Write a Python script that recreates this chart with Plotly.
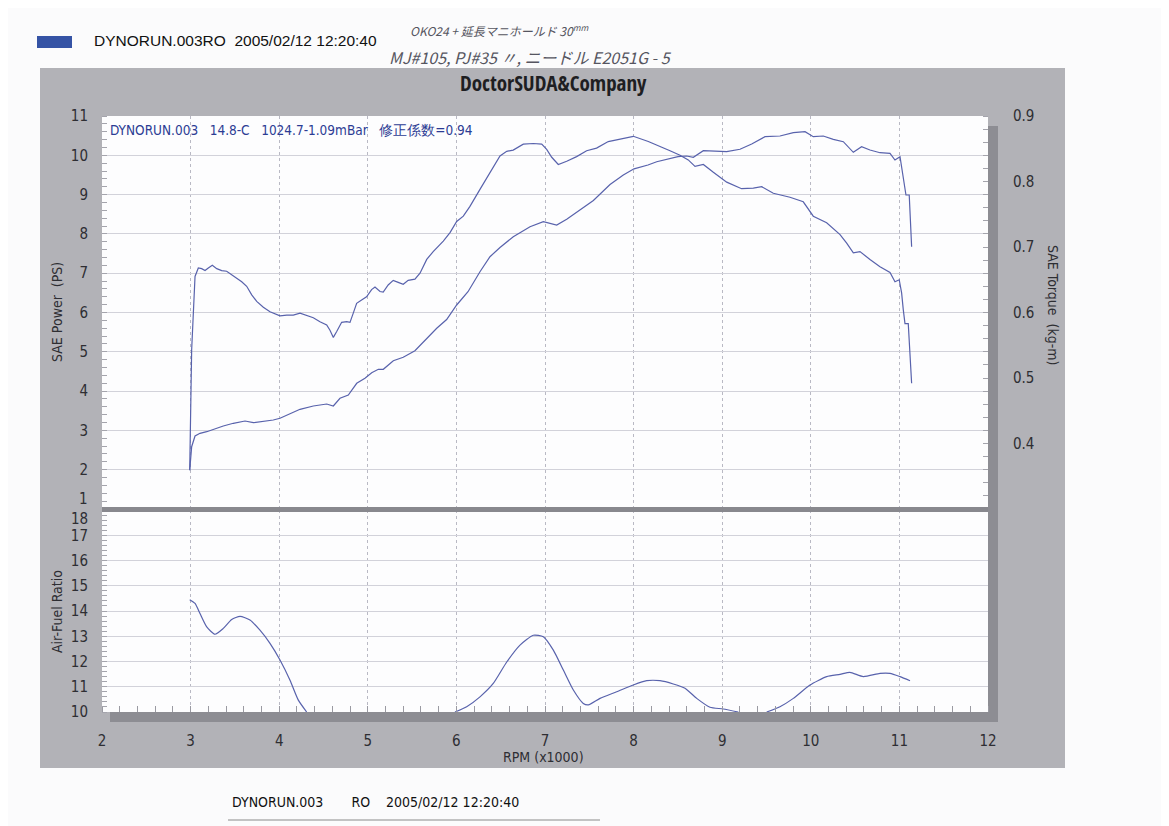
import plotly.graph_objects as go

# ---------------- data ----------------
rpm_torque = [2.99, 3.012, 3.050, 3.087, 3.125, 3.163, 3.200, 3.245, 3.295, 3.351, 3.407, 3.464, 3.520,
              3.577, 3.633, 3.690, 3.746, 3.821, 3.896, 4.009, 4.085, 4.159, 4.235, 4.310, 4.385, 4.460,
              4.536, 4.573, 4.611, 4.649, 4.705, 4.762, 4.799, 4.836, 4.874, 4.930, 4.986, 5.043, 5.081,
              5.138, 5.174, 5.230, 5.287, 5.343, 5.400, 5.456, 5.532, 5.589, 5.665, 5.738, 5.852, 5.928,
              6.003, 6.078, 6.153, 6.266, 6.379, 6.492, 6.568, 6.641, 6.755, 6.868, 6.963, 7.019, 7.076,
              7.150, 7.245, 7.357, 7.470, 7.582, 7.714, 7.847, 7.997, 8.166, 8.298, 8.411, 8.524, 8.617,
              8.693, 8.787, 8.900, 9.051, 9.219, 9.351, 9.446, 9.577, 9.765, 9.915, 10.028, 10.179,
              10.330, 10.405, 10.480, 10.555, 10.668, 10.781, 10.894, 10.950, 10.998, 11.025, 11.044,
              11.063, 11.100, 11.138]
torque_kgm = [0.359, 0.543, 0.655, 0.668, 0.667, 0.664, 0.668, 0.672, 0.667, 0.664, 0.663, 0.658, 0.653,
              0.647, 0.640, 0.627, 0.617, 0.608, 0.601, 0.595, 0.596, 0.596, 0.599, 0.595, 0.592, 0.586,
              0.581, 0.573, 0.562, 0.571, 0.585, 0.586, 0.585, 0.599, 0.614, 0.619, 0.624, 0.635, 0.639,
              0.632, 0.631, 0.642, 0.649, 0.646, 0.643, 0.649, 0.651, 0.660, 0.681, 0.693, 0.709, 0.722,
              0.739, 0.747, 0.762, 0.788, 0.814, 0.839, 0.846, 0.848, 0.857, 0.858, 0.857, 0.849, 0.837,
              0.826, 0.831, 0.838, 0.847, 0.851, 0.861, 0.865, 0.869, 0.861, 0.854, 0.847, 0.840, 0.833,
              0.823, 0.826, 0.814, 0.799, 0.789, 0.790, 0.792, 0.782, 0.776, 0.769, 0.747, 0.737,
              0.719, 0.706, 0.691, 0.693, 0.681, 0.670, 0.661, 0.647, 0.650, 0.630, 0.604,
              0.583, 0.583, 0.492]

rpm_power = [2.99, 3.012, 3.050, 3.106, 3.182, 3.256, 3.369, 3.482, 3.614, 3.708, 3.821, 3.933, 4.009,
             4.122, 4.235, 4.385, 4.536, 4.611, 4.686, 4.780, 4.875, 4.968, 5.044, 5.119, 5.175, 5.288,
             5.400, 5.532, 5.665, 5.778, 5.890, 6.003, 6.131, 6.266, 6.379, 6.492, 6.642, 6.831, 6.981,
             7.132, 7.245, 7.395, 7.546, 7.734, 7.884, 8.005, 8.162, 8.261, 8.377, 8.501, 8.599, 8.674,
             8.787, 8.937, 9.050, 9.201, 9.333, 9.483, 9.652, 9.803, 9.935, 10.028, 10.141, 10.254,
             10.367, 10.480, 10.573, 10.668, 10.781, 10.894, 10.950, 11.007, 11.044, 11.074, 11.111, 11.138]
power_ps = [1.99, 2.585, 2.858, 2.926, 2.967, 3.028, 3.112, 3.181, 3.239, 3.196, 3.221, 3.265, 3.308,
            3.417, 3.537, 3.621, 3.672, 3.621, 3.817, 3.901, 4.198, 4.326, 4.468, 4.555, 4.555, 4.774,
            4.860, 5.028, 5.344, 5.598, 5.822, 6.191, 6.529, 7.038, 7.420, 7.654, 7.929, 8.183, 8.310,
            8.226, 8.372, 8.608, 8.850, 9.257, 9.499, 9.656, 9.753, 9.837, 9.906, 9.964, 9.982, 9.949,
            10.117, 10.092, 10.092, 10.153, 10.288, 10.473, 10.491, 10.575, 10.601, 10.473, 10.491, 10.407,
            10.346, 10.076, 10.219, 10.135, 10.066, 10.051, 9.880, 9.964, 9.372, 8.990, 8.990, 7.674]

rpm_afr = [2.99, 3.05, 3.106, 3.182, 3.275, 3.369, 3.464, 3.558, 3.670, 3.783, 3.896, 4.009, 4.122, 4.216,
           4.310, None, 5.984, 6.116, 6.266, 6.416, 6.568, 6.718, 6.868, 6.981, 7.094, 7.207, 7.320, 7.432,
           7.489, 7.621, 7.809, 7.997, 8.148, 8.298, 8.448, 8.580, 8.712, 8.862, 9.012, 9.182, None, 9.502,
           9.652, 9.803, 9.991, 10.179, 10.330, 10.442, 10.593, 10.781, 10.894, 11.007, 11.120]
afr = [14.45, 14.30, 13.90, 13.37, 13.08, 13.31, 13.66, 13.79, 13.64, 13.24, 12.72, 12.06, 11.26, 10.47,
       10.0, None, 10.0, 10.21, 10.60, 11.13, 11.98, 12.65, 13.04, 12.98, 12.45, 11.66, 10.87, 10.34,
       10.28, 10.54, 10.80, 11.07, 11.24, 11.24, 11.11, 10.94, 10.54, 10.19, 10.12, 10.0, None, 10.0,
       10.21, 10.54, 11.07, 11.40, 11.49, 11.57, 11.40, 11.53, 11.53, 11.40, 11.24]

rpm_ticks = [2, 3, 4, 5, 6, 7, 8, 9, 10, 11, 12]
power_ticks = [2, 3, 4, 5, 6, 7, 8, 9, 10, 11]
torque_ticks = [0.4, 0.5, 0.6, 0.7, 0.8, 0.9]
torque_ticktext = ["0.4", "0.5", "0.6", "0.7", "0.8", "0.9"]
afr_ticks = [10, 11, 12, 13, 14, 15, 16, 17]

# ---------------- styling ----------------
W, H = 1169, 826
OFF = 8  # the page body adds an 8 px margin; positions below are in window pixels
def px(x): return (x - OFF) / W
def py(y): return 1 - (y - OFF) / H

NARROW = "DejaVu Sans Condensed, Liberation Sans Narrow, Arial Narrow, sans-serif"
BOLDN = "Open Sans Condensed, DejaVu Sans Condensed, sans-serif"
LINE = "#5862ac"
GRID_V = "#b9b9c4"
GRID_H = "#d2d2da"
TICKC = "#2e2e33"
PANEL = "#b2b2b7"
SHADOW = "#8d8d93"

XD = [px(102), px(988)]
YD_UP = [py(509), py(116)]
YD_LO = [py(712), py(510)]

fig = go.Figure()
fig.add_trace(go.Scatter(x=rpm_power, y=power_ps, mode="lines", xaxis="x", yaxis="y",
                         line=dict(color=LINE, width=1.2), hoverinfo="skip"))
fig.add_trace(go.Scatter(x=rpm_torque, y=torque_kgm, mode="lines", xaxis="x", yaxis="y2",
                         line=dict(color=LINE, width=1.2), hoverinfo="skip"))
fig.add_trace(go.Scatter(x=rpm_afr, y=afr, mode="lines", xaxis="x2", yaxis="y3",
                         line=dict(color=LINE, width=1.2, shape="spline", smoothing=0.6),
                         connectgaps=False, hoverinfo="skip"))

tickfont = dict(family=NARROW, size=15, color=TICKC)

fig.update_layout(
    width=W, height=H, margin=dict(l=0, r=0, t=0, b=0, autoexpand=False),
    paper_bgcolor="#fbfbfc", plot_bgcolor="rgba(0,0,0,0)", showlegend=False,
    xaxis=dict(domain=XD, range=[2, 12], anchor="y", showticklabels=False, ticks="", automargin=False,
               tickvals=rpm_ticks, showgrid=True, gridcolor=GRID_V, griddash="dot", gridwidth=1,
               zeroline=False, showline=False),
    xaxis2=dict(domain=XD, range=[2, 12], anchor="y3", tickvals=rpm_ticks, automargin=False,
                ticktext=[str(v) for v in rpm_ticks], ticks="outside", ticklen=15,
                tickcolor="rgba(0,0,0,0)", tickfont=tickfont, showgrid=True, gridcolor=GRID_V,
                griddash="dot", gridwidth=1, zeroline=False, showline=False,
                minor=dict(ticks="inside", dtick=0.2, ticklen=6, tickcolor="#9a9aa2", showgrid=False)),
    yaxis=dict(domain=YD_UP, range=[1, 11], anchor="x", tickvals=power_ticks, automargin=False,
               ticktext=[str(v) for v in power_ticks], ticks="outside", ticklen=10,
               tickcolor="rgba(0,0,0,0)", tickfont=tickfont, showgrid=True, gridcolor=GRID_H,
               gridwidth=1, zeroline=False, showline=False,
               minor=dict(ticks="inside", dtick=0.2, ticklen=5, tickcolor="#a4a4ac", showgrid=False)),
    yaxis2=dict(range=[0.3, 0.9], overlaying="y", side="right", anchor="x", tickvals=torque_ticks,
                ticktext=torque_ticktext, ticks="outside", ticklen=21, tickcolor="rgba(0,0,0,0)",
                tickfont=tickfont, showgrid=False, zeroline=False, showline=False, automargin=False,
                minor=dict(ticks="inside", dtick=0.02, ticklen=5, tickcolor="#a4a4ac", showgrid=False)),
    yaxis3=dict(domain=YD_LO, range=[10, 18], anchor="x2", tickvals=afr_ticks, automargin=False,
                ticktext=[str(v) for v in afr_ticks], ticks="outside", ticklen=10,
                tickcolor="rgba(0,0,0,0)", tickfont=tickfont, showgrid=True, gridcolor=GRID_H,
                gridwidth=1, zeroline=False, showline=False,
                minor=dict(ticks="inside", dtick=0.2, ticklen=5, tickcolor="#a4a4ac", showgrid=False)),
)

shapes = [
    dict(type="rect", xref="paper", yref="paper", x0=px(40), x1=px(1065), y0=py(768), y1=py(68),
         fillcolor=PANEL, line=dict(width=0), layer="below"),
    dict(type="rect", xref="paper", yref="paper", x0=px(110), x1=px(998), y0=py(722), y1=py(126),
         fillcolor=SHADOW, line=dict(width=0), layer="below"),
    dict(type="rect", xref="paper", yref="paper", x0=px(102), x1=px(988), y0=py(712), y1=py(116),
         fillcolor="#fdfdfe", line=dict(width=0), layer="below"),
    dict(type="line", xref="paper", yref="paper", x0=px(102), x1=px(988), y0=py(509.5), y1=py(509.5),
         line=dict(color="#88888e", width=5), layer="above"),
    dict(type="rect", xref="paper", yref="paper", x0=px(37), x1=px(72), y0=py(48), y1=py(36),
         fillcolor="#3553a5", line=dict(width=0)),
    dict(type="line", xref="paper", yref="paper", x0=px(228), x1=px(600), y0=py(820), y1=py(820),
         line=dict(color="#8a8a8a", width=1)),
]
fig.update_layout(shapes=shapes)

def ann(x, y, text, size, color="#111", family=NARROW, xanchor="left", yanchor="middle", angle=0,
        weight=None):
    f = dict(family=family, size=size, color=color)
    if weight is not None:
        f["weight"] = weight
    fig.add_annotation(x=px(x), y=py(y), xref="paper", yref="paper", text=text, showarrow=False,
                       xanchor=xanchor, yanchor=yanchor, textangle=angle, font=f)

# header
ann(92, 41, "DYNORUN.003RO&nbsp;&nbsp;2005/02/12 12:20:40", 15.5, color="#111",
    family="Liberation Sans, Arial, sans-serif")
ann(408, 30, "<i>OKO24 + 延長マニホールド 30<sup>mm</sup></i>", 12, color="#555560",
    family="Noto Sans CJK JP")
ann(387, 57, "<i>MJ#105, PJ#35 〃, ニードル E2051G - 5</i>", 16, color="#555560",
    family="Noto Sans CJK JP")

# panel title
ann(553, 83, "DoctorSUDA&amp;Company", 21, color="#1e1e22", family=BOLDN, xanchor="center", weight=700)
# info line
ann(108, 130, "DYNORUN.003&nbsp;&nbsp;&nbsp;14.8-C&nbsp;&nbsp;&nbsp;1024.7-1.09mBar&nbsp;&nbsp;&nbsp;修正係数=0.94",
    13.5, color="#2c3c94")

# axis titles
ann(57, 312, "SAE Power  (PS)", 14, color=TICKC, xanchor="center", angle=-90)
ann(57, 612, "Air-Fuel Ratio", 14, color=TICKC, xanchor="center", angle=-90)
ann(1053, 305, "SAE Torque  (kg-m)", 14, color=TICKC, xanchor="center", angle=90)
ann(543, 757, "RPM (x1000)", 14, color=TICKC, xanchor="center")

# separated labels at the panel junction
ann(90, 499, "1", 15, color=TICKC, xanchor="right")
ann(90, 519, "18", 15, color=TICKC, xanchor="right")

# footer
ann(230, 802, "DYNORUN.003&nbsp;&nbsp;&nbsp;&nbsp;&nbsp;&nbsp;&nbsp;RO&nbsp;&nbsp;&nbsp;&nbsp;2005/02/12 12:20:40",
    14, color="#111")

fig.write_html("out.html")
